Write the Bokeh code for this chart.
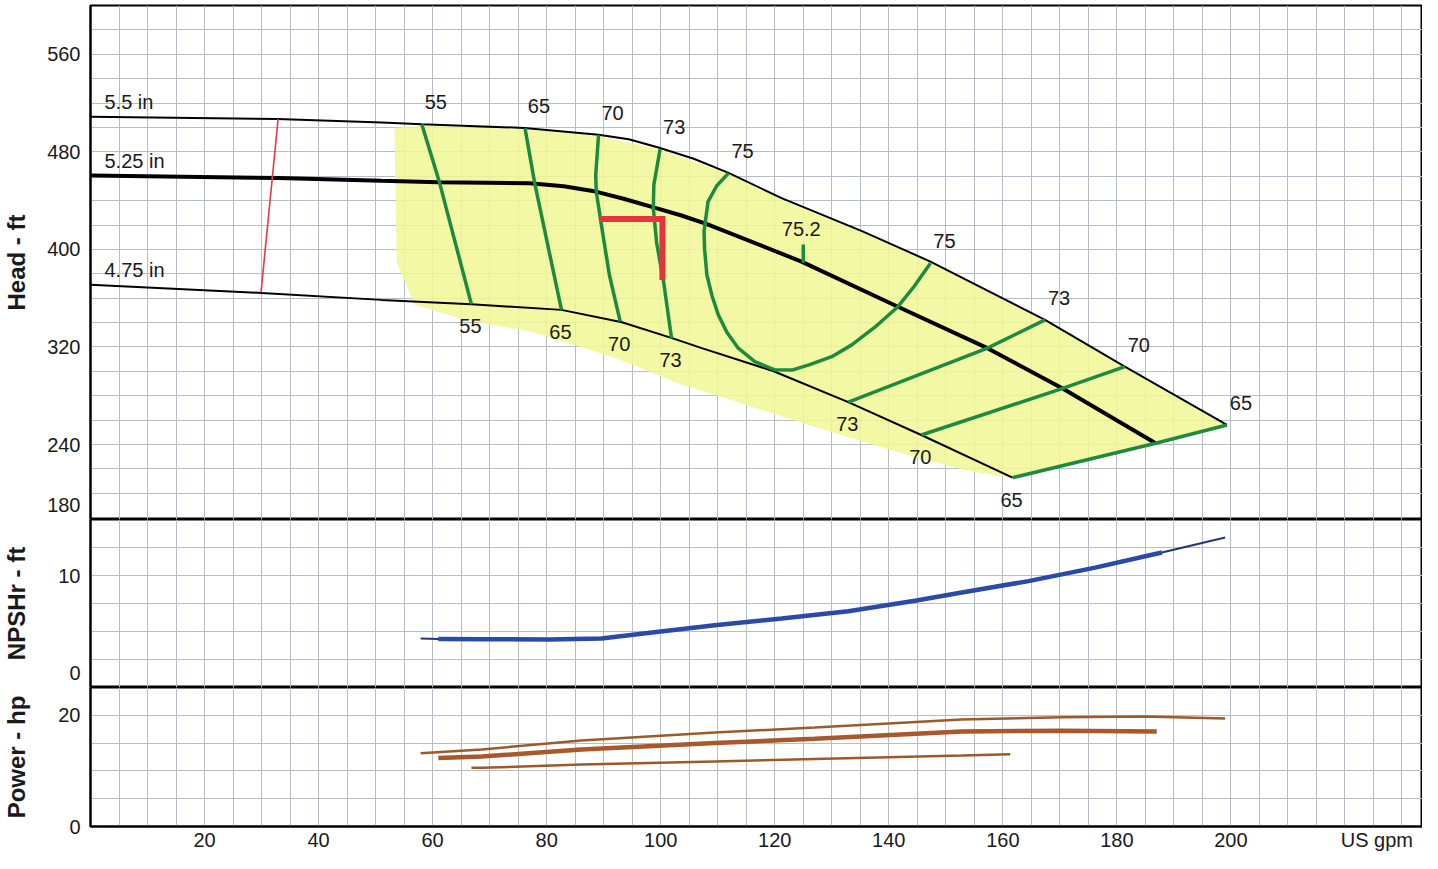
from bokeh.plotting import figure
from bokeh.layouts import column
from bokeh.models import FixedTicker, Range1d
from bokeh.embed import file_html
from bokeh.resources import INLINE
from bokeh.core.properties import value

# ---------------- data ----------------
x_tick_values = [20, 40, 60, 80, 100, 120, 140, 160, 180, 200]
x_unit_label = "US gpm"
x_unit_label_at = 225.6
head_tick_values = [180, 240, 320, 400, 480, 560]
npsh_tick_values = [0, 10]
power_tick_values = [0, 20]

impeller_names = ["5.5 in", "5.25 in", "4.75 in"]

# Head curves (US gpm, ft)
q_550 = [0, 32.8, 51.1, 58.1, 76.1, 89.1, 94.4, 99.6, 105.8, 111.9, 121.2, 135.3, 147.3, 167.4, 181.4, 199.3]
h_550 = [508.7, 507, 504, 502.7, 499.6, 494, 490.3, 483.5, 474.3, 462.8, 442, 415, 390, 342.2, 303.9, 256]
q_525 = [0, 33, 51, 61, 77, 83, 88.6, 93.5, 99.2, 103.5, 108, 124.7, 141.6, 157.3, 170.5, 186.8]
h_525 = [460.5, 458.5, 456.2, 455, 454.3, 451.8, 447.4, 441.5, 433.8, 428, 421, 390, 353, 319, 286, 241]
q_475 = [0, 30, 51, 66.8, 82.6, 93.2, 102, 107.2, 119.7, 132.9, 145.7, 161.7]
h_475 = [371, 364.3, 358.6, 355, 350.4, 340.3, 327.2, 319, 300.3, 274.7, 247.8, 212.8]

# Iso-efficiency lines (%)
eff_55_q = [66.8, 61.2, 58.1]
eff_55_h = [355, 455, 502.7]
eff_65_q = [82.6, 77.9, 76.2]
eff_65_h = [350.4, 454.3, 499.4]
eff_70_q = [92.9, 91.0, 89.5, 88.7, 88.6, 89.1]
eff_70_h = [340.8, 379, 422.8, 447.4, 461, 494]
eff_73_q = [101.9, 100.5, 99.3, 98.7, 98.8, 99.9]
eff_73_h = [327.2, 373.6, 405, 433.8, 453, 482.5]
eff_75_q = [111.9, 109.8, 108.3, 107.6, 107.7, 108.1, 109.0, 110.1, 111.6, 113.6, 116.5, 120,
            123, 126, 130, 133.5, 137.5, 141.6, 144.5, 147.3]
eff_75_h = [462.5, 452, 439.2, 414.6, 400, 379, 362, 346.3, 332, 319, 308, 301.2,
            301, 305.3, 312, 321.7, 336, 353, 370, 388.7]
eff_73r_q = [132.9, 157.3, 167.4]
eff_73r_h = [274.7, 319, 342.2]
eff_70r_q = [145.7, 170.5, 181.4]
eff_70r_h = [247.8, 286, 303.9]
eff_65r_q = [161.7, 186.8, 199.3]
eff_65r_h = [212.8, 241, 256]
bep_q = [125, 125]
bep_h = [389, 404]
bep_label = "75.2"

# Minimum-flow line and duty point marker
minflow_q = [29.9, 32.9]
minflow_h = [364.5, 507]
duty_q = [89.3, 100.3, 100.3]
duty_h = [425, 425, 375]

# Preferred operating region (shaded)
region_q = [53.3, 58.1, 76.1, 89.1, 99.6, 111.9, 121.2, 135.3, 147.3, 167.4, 181.4, 199.3,
            186.8, 161.7, 154.2, 144.7, 135.4, 126, 116.6, 109.5, 103.7, 91.9, 77.4, 65.6, 56.8, 53.7]
region_h = [499.7, 501.5, 498.5, 493, 482.5, 461.8, 441, 414, 389, 341.2, 303, 255,
            241, 212.8, 218, 229.3, 242.4, 256, 270, 280.7, 288.9, 311.1, 332.4, 342.3, 354.6, 389.7]

# NPSHr (ft)
npsh_q = [57.9, 61, 68.6, 80.3, 89.6, 99.6, 109.5, 121.2, 132.9, 144.6, 152.8, 164.5, 176.2, 187.9, 199]
npsh_v = [4.38, 4.33, 4.31, 4.29, 4.37, 4.97, 5.56, 6.16, 6.81, 7.74, 8.48, 9.5, 10.7, 12.05, 13.4]

# Power (hp)
pw_550_q = [57.9, 68.6, 86.1, 109.5, 127, 152.8, 170.4, 184.9, 199]
pw_550_v = [13.17, 13.86, 15.48, 16.92, 17.79, 19.25, 19.65, 19.77, 19.43]
pw_525_q = [61, 68.6, 86.1, 109.5, 127, 152.8, 170.4, 187]
pw_525_v = [12.3, 12.57, 13.86, 15.0, 15.77, 17.1, 17.2, 17.1]
pw_475_q = [66.8, 68.6, 86.1, 109.5, 127, 152.8, 161.3]
pw_475_v = [10.56, 10.56, 11.13, 11.7, 12.12, 12.75, 13.0]

# ---------------- styling ----------------
FONT = "Liberation Sans"
TXT = "#1a1a1a"
GRID = "#b6bcc8"
GREEN = "#1d8a3e"
X_RANGE = Range1d(0, 233.6)
x_grid = list(range(5, 235, 5))


def make_panel(height, y0, y1, y_ticks, y_grid, title, title_standoff, with_x_axis,
               border_top, border_bottom, lift_bottom_label):
    p = figure(width=1422, height=height, x_range=X_RANGE, y_range=Range1d(y0, y1),
               output_backend="svg", toolbar_location=None,
               x_axis_location="below" if with_x_axis else None,
               min_border_left=90, min_border_right=0, min_border_top=border_top,
               min_border_bottom=border_bottom)
    p.outline_line_color = "black"
    p.outline_line_width = 2
    p.background_fill_color = "white"
    p.xgrid.ticker = FixedTicker(ticks=x_grid)
    p.ygrid.ticker = FixedTicker(ticks=y_grid)
    for g in (p.xgrid, p.ygrid):
        g.grid_line_color = GRID
        g.grid_line_width = 1
    ax = p.yaxis[0]
    ax.ticker = FixedTicker(ticks=y_ticks)
    if lift_bottom_label:
        # the lowest label sits just above the panel's bottom edge, as in the reference
        ax.major_label_overrides = {y_ticks[0]: str(y_ticks[0]) + "\n "}
        ax.major_label_text_line_height = 0.15
    ax.axis_line_color = "black"
    ax.axis_line_width = 2
    ax.major_tick_line_color = None
    ax.minor_tick_line_color = None
    ax.major_tick_out = 0
    ax.major_tick_in = 0
    ax.minor_tick_out = 0
    ax.major_label_text_font = FONT
    ax.major_label_text_font_size = "20px"
    ax.major_label_text_color = TXT
    ax.major_label_standoff = 10
    ax.axis_label = title
    ax.axis_label_text_font = FONT
    ax.axis_label_text_font_style = "bold"
    ax.axis_label_text_font_size = "24px"
    ax.axis_label_text_color = TXT
    ax.axis_label_standoff = title_standoff
    if with_x_axis:
        xa = p.xaxis[0]
        xa.ticker = FixedTicker(ticks=x_tick_values + [x_unit_label_at])
        xa.major_label_overrides = {x_unit_label_at: x_unit_label}
        xa.axis_line_color = "black"
        xa.axis_line_width = 2
        xa.major_tick_line_color = None
        xa.minor_tick_line_color = None
        xa.major_tick_out = 0
        xa.major_tick_in = 0
        xa.minor_tick_out = 0
        xa.major_label_text_font = FONT
        xa.major_label_text_font_size = "20px"
        xa.major_label_text_color = TXT
        xa.major_label_standoff = 2
    return p


def text_at(p, xs, ys, labels, dx, dy, align="center", size="20px"):
    p.text(x=xs, y=ys, text=labels, x_offset=dx, y_offset=dy,
           text_align=align, text_baseline="middle",
           text_font=value(FONT), text_font_size=size, text_color=TXT)


# ---------------- head panel ----------------
head = make_panel(519, 178.5, 600, head_tick_values, list(range(200, 600, 20)),
                  "Head - ft", 14, False, 5, 0, True)

head.patch(region_q, region_h, fill_color="#f1f794", fill_alpha=0.85, line_color=None)

head.line(q_550, h_550, line_color="black", line_width=2)
head.line(q_525, h_525, line_color="black", line_width=4)
head.line(q_475, h_475, line_color="black", line_width=2)

eff_lines = [
    ("55", eff_55_q, eff_55_h, "below", "above"),
    ("65", eff_65_q, eff_65_h, "below", "above"),
    ("70", eff_70_q, eff_70_h, "below", "above"),
    ("73", eff_73_q, eff_73_h, "below", "above"),
    ("75", eff_75_q, eff_75_h, "above", "above"),
    ("73", eff_73r_q, eff_73r_h, "below", "above"),
    ("70", eff_70r_q, eff_70r_h, "below", "above"),
    ("65", eff_65r_q, eff_65r_h, "below", "above"),
]
for lab, qs, hs, first_end, last_end in eff_lines:
    head.line(qs, hs, line_color=GREEN, line_width=3.5, line_join="round")
    for end, idx in ((first_end, 0), (last_end, -1)):
        if end == "above":
            text_at(head, [qs[idx]], [hs[idx]], [lab], 14, -22)
        else:
            text_at(head, [qs[idx]], [hs[idx]], [lab], -1, 22)

head.line(bep_q, bep_h, line_color=GREEN, line_width=3.5)
text_at(head, [bep_q[-1]], [bep_h[-1]], [bep_label], -2, -16)

head.line(minflow_q, minflow_h, line_color="#e23a4a", line_width=1.6)
head.line(duty_q, duty_h, line_color="#e5343c", line_width=6, line_join="miter")

text_at(head, [q_550[0], q_525[0], q_475[0]], [h_550[0], h_525[0], h_475[0]],
        impeller_names, 14, -15, align="left")

# ---------------- NPSHr panel ----------------
npsh = make_panel(168, 0, 15, npsh_tick_values, [2.5, 5, 7.5, 10, 12.5],
                  "NPSHr - ft", 25, False, 0, 0, True)
npsh.line(npsh_q, npsh_v, line_color="#22357a", line_width=2)
npsh.line(npsh_q[1:-1], npsh_v[1:-1], line_color="#2b49a6", line_width=4.5)

# ---------------- Power panel ----------------
power = make_panel(166, 0, 25, power_tick_values, [5, 10, 15, 20],
                   "Power - hp", 25, True, 0, 24, False)
power.line(pw_550_q, pw_550_v, line_color="#9a5a2c", line_width=2.5)
power.line(pw_525_q, pw_525_v, line_color="#a8582a", line_width=4.5)
power.line(pw_475_q, pw_475_v, line_color="#9a5a2c", line_width=2.5)

layout = column(head, npsh, power, spacing=0)
open("out.html", "w").write(file_html(layout, INLINE))
